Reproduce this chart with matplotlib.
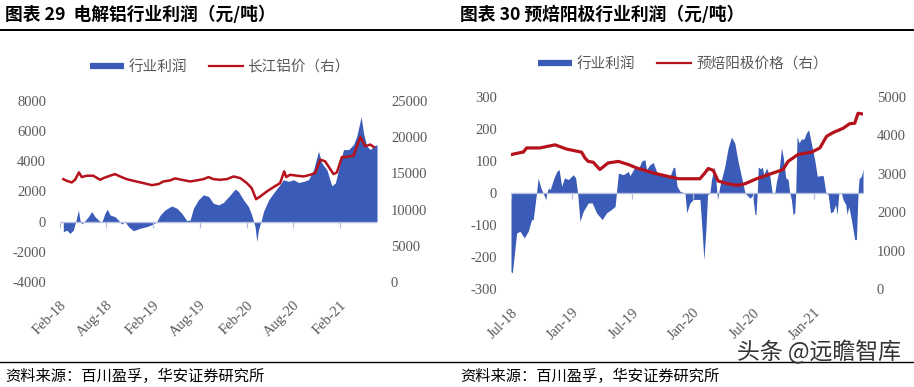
import matplotlib
matplotlib.use("Agg")
import matplotlib.pyplot as plt
import matplotlib.dates as mdates
from matplotlib.lines import Line2D
import pandas as pd

# ---------------- Chart 29: electrolytic aluminium ----------------
al_profit_dates = [
    "2018-02-14", "2018-02-27", "2018-03-12", "2018-03-25", "2018-04-05", "2018-04-14",
    "2018-04-20", "2018-04-27", "2018-05-10", "2018-05-23", "2018-06-05", "2018-06-18",
    "2018-07-01", "2018-07-14", "2018-07-27", "2018-08-05", "2018-08-16", "2018-09-04",
    "2018-09-17", "2018-09-30", "2018-10-13", "2018-10-27", "2018-11-15", "2018-12-11",
    "2019-01-06", "2019-02-01", "2019-02-14", "2019-02-28", "2019-03-19", "2019-04-14",
    "2019-05-04", "2019-05-23", "2019-06-12", "2019-06-25", "2019-07-08", "2019-07-27",
    "2019-08-16", "2019-09-05", "2019-09-24", "2019-10-14", "2019-11-02", "2019-11-29",
    "2019-12-18", "2019-12-31", "2020-01-20", "2020-02-08", "2020-02-21", "2020-03-05",
    "2020-03-12", "2020-03-18", "2020-03-28", "2020-04-07", "2020-04-27", "2020-05-16",
    "2020-06-05", "2020-06-24", "2020-07-14", "2020-08-02", "2020-08-22", "2020-09-11",
    "2020-09-30", "2020-10-20", "2020-11-08", "2020-11-21", "2020-12-11", "2020-12-30",
    "2021-01-13", "2021-02-01", "2021-02-14", "2021-03-06", "2021-03-25", "2021-04-07",
    "2021-04-24", "2021-05-03", "2021-05-16", "2021-05-30", "2021-06-12", "2021-06-25",
]
al_profit = [
    -670, -560, -780, -560, 110, 780,
    110, -160, 70, 330, 670, 330,
    110, -70, 560, 820, 440, 330,
    110, -160, 0, -330, -600, -440,
    -330, -160, 0, 440, 780, 1040,
    890, 560, 70, 110, 890, 1440,
    1780, 1670, 1220, 1110, 1270, 1780,
    2160, 2000, 1440, 1000, 440, -330,
    -1330, -560, 0, 670, 1440, 1890,
    2330, 2780, 2670, 2780, 2600, 2670,
    2780, 3440, 4670, 3890, 3440, 2380,
    2560, 3890, 4780, 4780, 5110, 5670,
    6960, 5890, 5000, 4780, 5000, 5110,
]
al_price_dates = [
    "2018-02-14", "2018-02-27", "2018-03-19", "2018-04-01", "2018-04-16", "2018-04-27",
    "2018-05-16", "2018-06-11", "2018-07-08", "2018-07-21", "2018-08-16", "2018-09-04",
    "2018-09-24", "2018-10-20", "2018-11-15", "2018-12-24", "2019-01-26", "2019-02-21",
    "2019-03-13", "2019-04-08", "2019-04-27", "2019-05-23", "2019-06-25", "2019-07-21",
    "2019-08-16", "2019-09-05", "2019-09-24", "2019-10-20", "2019-11-16", "2019-12-12",
    "2020-01-07", "2020-02-02", "2020-02-21", "2020-03-09", "2020-03-25", "2020-04-20",
    "2020-05-16", "2020-06-11", "2020-06-27", "2020-07-05", "2020-07-20", "2020-08-16",
    "2020-09-11", "2020-10-07", "2020-10-26", "2020-11-15", "2020-12-04", "2020-12-24",
    "2021-01-06", "2021-01-19", "2021-02-08", "2021-02-27", "2021-03-25", "2021-04-21",
    "2021-05-10", "2021-05-30", "2021-06-12",
]
al_price = [
    14210, 13980, 13750, 14120, 15140, 14490,
    14680, 14680, 14120, 14350, 14680, 14900,
    14580, 14200, 13980, 13660, 13380, 13520,
    13890, 14030, 14310, 14120, 13890, 14030,
    14210, 14490, 14210, 14120, 14210, 14580,
    14350, 13660, 12960, 11440, 11810, 12500,
    13100, 13660, 15280, 14490, 14810, 14680,
    14580, 14810, 15050, 16900, 16670, 15600,
    14900, 15140, 17270, 17270, 17450, 20050,
    18750, 18980, 18660,
]
al_xlim = ["2018-02-01", "2021-06-25"]
al_xticks = ["2018-02-01", "2018-08-01", "2019-02-01", "2019-08-01",
             "2020-02-01", "2020-08-01", "2021-02-01"]
al_xticklabels = ["Feb-18", "Aug-18", "Feb-19", "Aug-19", "Feb-20", "Aug-20", "Feb-21"]
al_left_ticks = [-4000, -2000, 0, 2000, 4000, 6000, 8000]
al_right_ticks = [0, 5000, 10000, 15000, 20000, 25000]

# ---------------- Chart 30: prebaked anode ----------------
an_profit_dates = [
    "2018-07-01", "2018-07-05", "2018-07-18", "2018-07-28", "2018-08-10", "2018-08-22",
    "2018-09-01", "2018-09-06", "2018-09-16", "2018-09-21", "2018-09-29", "2018-10-06",
    "2018-10-14", "2018-10-17", "2018-10-22", "2018-10-27", "2018-11-06", "2018-11-16",
    "2018-11-23", "2018-12-01", "2018-12-09", "2018-12-21", "2019-01-05", "2019-01-12",
    "2019-01-18", "2019-01-25", "2019-02-04", "2019-02-19", "2019-03-03", "2019-03-16",
    "2019-04-02", "2019-04-15", "2019-04-29", "2019-05-11", "2019-05-21", "2019-06-05",
    "2019-06-20", "2019-06-25", "2019-07-10", "2019-07-20", "2019-07-30", "2019-08-09",
    "2019-08-14", "2019-08-24", "2019-09-03", "2019-09-13", "2019-09-23", "2019-10-08",
    "2019-10-23", "2019-11-02", "2019-11-07", "2019-11-14", "2019-11-23", "2019-12-08",
    "2019-12-13", "2019-12-23", "2020-01-02", "2020-01-22", "2020-01-27", "2020-02-03",
    "2020-02-09", "2020-02-14", "2020-02-21", "2020-02-26", "2020-03-05", "2020-03-10",
    "2020-03-15", "2020-03-22", "2020-04-06", "2020-04-16", "2020-04-26", "2020-05-06",
    "2020-05-16", "2020-05-26", "2020-06-06", "2020-06-21", "2020-06-29", "2020-07-06",
    "2020-07-09", "2020-07-13", "2020-07-16", "2020-07-23", "2020-07-28", "2020-08-02",
    "2020-08-10", "2020-08-20", "2020-08-27", "2020-09-04", "2020-09-09", "2020-09-17",
    "2020-09-24", "2020-09-29", "2020-10-07", "2020-10-14", "2020-10-19", "2020-10-24",
    "2020-10-29", "2020-11-03", "2020-11-06", "2020-11-10", "2020-11-16", "2020-11-23",
    "2020-12-01", "2020-12-08", "2020-12-15", "2020-12-23", "2021-01-03", "2021-01-10",
    "2021-01-18", "2021-01-28", "2021-02-05", "2021-02-12", "2021-02-19", "2021-02-27",
    "2021-03-06", "2021-03-11", "2021-03-16", "2021-03-24", "2021-03-29", "2021-04-06",
    "2021-04-10", "2021-04-15", "2021-04-23", "2021-05-03", "2021-05-08", "2021-05-13",
    "2021-05-16", "2021-05-23", "2021-05-28",
]
an_profit = [
    -245, -249, -125, -119, -140, -119,
    -83, -83, 0, 47, 16, 0,
    -21, 0, 16, 10, 42, 67,
    73, 21, 47, 42, 57, 47,
    0, -88, -57, -31, -31, -62,
    -83, -62, -52, -42, 62, 57,
    67, 54, 81, 73, 99, 104,
    73, 88, 95, 67, 57, 52,
    50, 78, 81, 21, 5, 0,
    -62, -31, -20, -20, -93, -208,
    -114, -5, 0, 42, 81, 42,
    -21, 21, 83, 140, 174, 156,
    99, 52, 0, -16, -8, -67,
    -67, 0, 81, 75, 81, 57,
    78, 52, 0, 0, 36, 73,
    140, 114, 47, 42, 0, -21,
    -67, -62, 0, 176, 156, 168,
    168, 187, 197, 156, 99, 52,
    54, 54, 0, -5, -62, -57,
    -36, -67, 0, 0, -21, -36,
    -67, -42, -83, -145, -145, 0,
    44, 52, 73,
]
an_price_dates = [
    "2018-07-01", "2018-08-02", "2018-08-07", "2018-08-17", "2018-09-26", "2018-11-11",
    "2018-12-16", "2019-01-30", "2019-02-09", "2019-02-19", "2019-03-06", "2019-03-26",
    "2019-04-20", "2019-05-21", "2019-06-20", "2019-07-15", "2019-09-03", "2019-10-23",
    "2019-11-18", "2020-01-22", "2020-02-06", "2020-02-16", "2020-03-02", "2020-03-17",
    "2020-04-11", "2020-05-06", "2020-05-21", "2020-06-06", "2020-07-11", "2020-08-30",
    "2020-09-29", "2020-10-14", "2020-11-13", "2020-12-24", "2021-01-18", "2021-02-07",
    "2021-02-27", "2021-03-29", "2021-04-18", "2021-05-03", "2021-05-13", "2021-05-28",
]
an_price = [
    3496, 3556, 3560, 3670, 3670, 3750,
    3640, 3560, 3410, 3320, 3300, 3110,
    3280, 3320, 3240, 3150, 3020, 2920,
    2870, 2870, 3020, 3135, 3090, 2810,
    2750, 2705, 2706, 2740, 2870, 3020,
    3110, 3320, 3500, 3560, 3670, 3970,
    4070, 4180, 4300, 4310, 4570, 4550,
]
an_xlim = ["2018-07-01", "2021-05-28"]
an_xticks = ["2018-07-01", "2019-01-01", "2019-07-01", "2020-01-01",
             "2020-07-01", "2021-01-01"]
an_xticklabels = ["Jul-18", "Jan-19", "Jul-19", "Jan-20", "Jul-20", "Jan-21"]
an_left_ticks = [-300, -200, -100, 0, 100, 200, 300]
an_right_ticks = [0, 1000, 2000, 3000, 4000, 5000]

titles = ["图表 29  电解铝行业利润（元/吨）", "图表 30 预焙阳极行业利润（元/吨）"]
legend_labels = [["行业利润", "长江铝价（右）"], ["行业利润", "预焙阳极价格（右）"]]
source_text = "资料来源：百川盈孚，华安证券研究所"
watermark = "头条 @远瞻智库"

# ---------------- style ----------------
BLUE = "#3A5BB7"
RED = "#B5121B"
AXIS = "#B4C0DC"
TXT = "#595959"
CJK = ["Noto Sans CJK SC", "DejaVu Sans"]
NUM = "Liberation Serif"

plt.rcParams["axes.unicode_minus"] = False
W, H = 914, 387
fig = plt.figure(figsize=(W / 100, H / 100), dpi=100)


def px(x0, y0, x1, y1):
    return [x0 / W, 1 - y1 / H, (x1 - x0) / W, (y1 - y0) / H]


def make_chart(rect, pdates, pvals, ldates, lvals, xlim, xticks, xlabels,
               lticks, rticks, lw, legend_center, labels):
    ax = fig.add_axes(rect)
    ax2 = ax.twinx()
    pd_ = pd.to_datetime(pdates)
    ax.fill_between(pd_, pvals, 0, color=BLUE, lw=0, zorder=2)
    xt = pd.to_datetime(xticks)
    ax.axhline(0, color=AXIS, lw=1.0, zorder=3)
    ax.plot(xt, [0] * len(xt), ls="none", marker=3, ms=4, mew=0.9,
            color=AXIS, zorder=3)
    ax2.plot(pd.to_datetime(ldates), lvals, color=RED, lw=lw, zorder=4,
             solid_joinstyle="round")
    ax.set_xlim(pd.to_datetime(xlim))
    ax.set_ylim(lticks[0], lticks[-1])
    ax2.set_ylim(rticks[0], rticks[-1])
    ax.set_yticks(lticks)
    ax.set_yticklabels([str(v) for v in lticks])
    ax2.set_yticks(rticks)
    ax2.set_yticklabels([str(v) for v in rticks])
    ax.set_xticks(xt)
    ax.set_xticklabels(xlabels, rotation=45, ha="right", va="top",
                       rotation_mode="anchor")
    for a in (ax, ax2):
        for s in a.spines.values():
            s.set_visible(False)
        a.tick_params(length=0, labelsize=10.5, labelcolor=TXT)
        for t in a.get_xticklabels() + a.get_yticklabels():
            t.set_fontfamily(NUM)
    ax.tick_params(axis="y", pad=10)
    ax2.tick_params(axis="y", pad=10)
    ax.tick_params(axis="x", pad=12)
    ax2.set_zorder(ax.get_zorder() + 1)
    ax2.patch.set_visible(False)
    handles = [Line2D([0], [0], color=BLUE, lw=4.5, solid_capstyle="butt"),
               Line2D([0], [0], color=RED, lw=1.6)]
    fig.legend(handles, labels, loc="center", ncol=2, frameon=False,
               bbox_to_anchor=(legend_center[0] / W, 1 - legend_center[1] / H),
               prop={"family": CJK, "size": 10.5}, labelcolor=TXT,
               handlelength=2.3, handletextpad=0.35, columnspacing=1.5)
    return ax, ax2


make_chart(px(60, 101, 377, 282), al_profit_dates, al_profit, al_price_dates, al_price,
           al_xlim, al_xticks, al_xticklabels, al_left_ticks, al_right_ticks,
           1.8, (220, 67), legend_labels[0])
make_chart(px(511, 96.7, 863, 289.3), an_profit_dates, an_profit, an_price_dates, an_price,
           an_xlim, an_xticks, an_xticklabels, an_left_ticks, an_right_ticks,
           2.3, (683, 64), legend_labels[1])

# titles, rules, sources
fig.text(5 / W, 1 - 15 / H, titles[0], family=CJK, weight="bold", size=12.8,
         va="center", ha="left", color="black")
fig.text(460 / W, 1 - 15 / H, titles[1], family=CJK, weight="bold", size=12.8,
         va="center", ha="left", color="black")
fig.add_artist(Line2D([0, 1], [1 - 29.5 / H] * 2, color="black", lw=1.4))
fig.add_artist(Line2D([0, 1], [1 - 362 / H] * 2, color="black", lw=1.0))
fig.text(5 / W, 1 - 376 / H, source_text, family=CJK, size=11, va="center",
         ha="left", color="black")
fig.text(460 / W, 1 - 376 / H, source_text, family=CJK, size=11, va="center",
         ha="left", color="black")
fig.text(737 / W, 1 - 352 / H, watermark, family=CJK, size=16.5, va="center",
         ha="left", color="#333333")

fig.savefig("out.png", dpi=100)
